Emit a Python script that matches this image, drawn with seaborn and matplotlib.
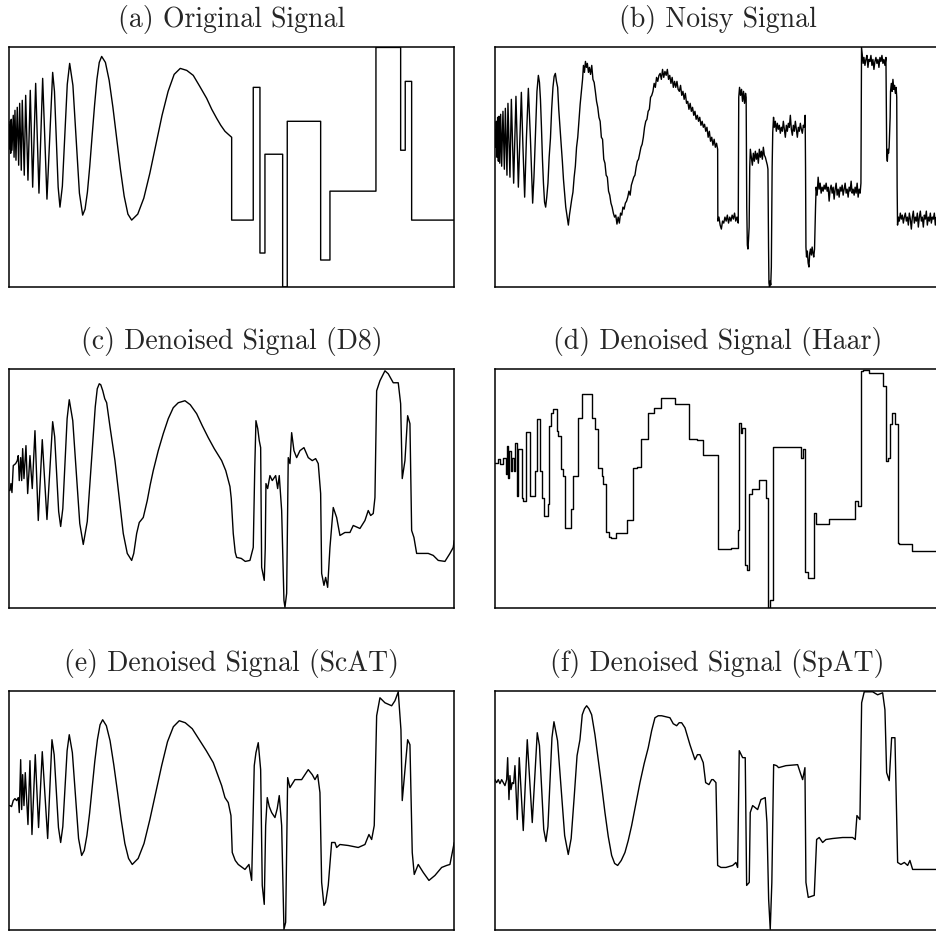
import pandas as pd
import matplotlib
matplotlib.use("Agg")
import matplotlib.pyplot as plt
import seaborn as sns

# values: t = sample position (0..445), amp = amplitude (0..240)

# (a) original signal: chirp part, then the blocks
a_pts = [(0, 150), (0.35, 162), (0.7, 138), (1.05, 166), (1.45, 134), (2.0, 168), (2.7, 137),
         (4.0, 172), (4.8, 130), (5.7, 177), (6.7, 127), (8.0, 180), (9.4, 122), (10.4, 184),
         (12.0, 117), (13.0, 187), (15.0, 112), (16.4, 192), (18.7, 107), (21.0, 197),
         (23.4, 100), (26.4, 204), (29.7, 94), (33.4, 209), (37.7, 88), (43.4, 215),
         (45.2, 196), (47.05, 148), (48.9, 100), (50.7, 80), (53.1, 101), (55.55, 152),
         (58.0, 203), (60.4, 224), (63.65, 202), (66.9, 148), (70.15, 94), (73.4, 72),
         (75.8, 78), (78.15, 95), (80.5, 121), (82.9, 152), (85.3, 182), (87.65, 208),
         (90.0, 225), (92.4, 231), (96.15, 225), (99.9, 207), (103.65, 180), (107.4, 149),
         (111.15, 118), (114.9, 91), (118.65, 73), (122.4, 67), (128.5, 73), (134.55, 89),
         (140.6, 114), (146.7, 143), (152.8, 172), (158.85, 196), (164.9, 213), (171.0, 219),
         (177.5, 217), (184.0, 212), (190.5, 201), (197.4, 189), (202.5, 178), (207.4, 169),
         (211.5, 162), (215.7, 156), (219, 153), (222.4, 150),
         (222.4, 67), (244.0, 67), (244.0, 200), (250.7, 200), (250.7, 34), (255.7, 34),
         (255.7, 133), (273.4, 133), (273.4, 0), (278.0, 0), (278.0, 166), (311.4, 166),
         (311.4, 27), (320.7, 27), (320.7, 96), (366.7, 96), (366.7, 240), (391.4, 240),
         (391.4, 137), (396.0, 137), (396.0, 206), (402.4, 206), (402.4, 67), (445, 67)]

# (b) noisy signal
b_pts = [(0, 157), (0.7, 140), (1.3, 166), (2.0, 130), (2.7, 170), (3.4, 126), (4.0, 171),
         (4.8, 124), (5.7, 173), (6.7, 121), (8.0, 176), (9.4, 118), (10.4, 179), (12.0, 112),
         (13.0, 184), (15.0, 110), (16.4, 188), (18.7, 104), (21.0, 191), (23.4, 100),
         (26.4, 195), (28.0, 140), (29.7, 90), (31.5, 150), (33.4, 199), (35.5, 148),
         (37.7, 84), (39.0, 110), (40.5, 152), (42.0, 196), (43.4, 212),
         (44.5, 205), (45.5, 188), (46.5, 160), (47.5, 128), (48.5, 104), (49.6, 85),
         (50.7, 80), (51.8, 90), (53.0, 104), (54.2, 130), (55.5, 149), (56.7, 178),
         (58.0, 200), (59.2, 211), (60.4, 214), (61.5, 206), (62.7, 200), (63.8, 178),
         (65.0, 160), (66.2, 143), (67.4, 126), (68.5, 108), (69.6, 94), (70.8, 80),
         (72.0, 72), (73.4, 62), (74.5, 72), (75.6, 80), (76.8, 88), (78.0, 95), (79.2, 110),
         (80.4, 121), (81.6, 140), (82.8, 150), (84.0, 166), (85.2, 183), (86.4, 196),
         (87.6, 208), (88.5, 222), (89.5, 215), (90.5, 226), (91.5, 220), (92.4, 224),
         (93.5, 215), (94.5, 220), (95.6, 213), (96.8, 222), (98.0, 208), (99.2, 205),
         (100.4, 196), (101.6, 186), (102.8, 180), (104.0, 170), (105.2, 166), (106.4, 150),
         (107.6, 148), (108.8, 128), (110.0, 124), (111.2, 112), (112.4, 110), (113.6, 96),
         (114.8, 92), (116.0, 84), (117.2, 80), (118.4, 74), (119.6, 70), (120.8, 72),
         (122.0, 63), (123.2, 70), (124.4, 64), (125.6, 74), (126.8, 72), (128.0, 80),
         (129.2, 78), (130.4, 84), (131.6, 86), (132.8, 90), (134.0, 96), (135.2, 92),
         (136.4, 102), (137.6, 106), (138.8, 110), (140.0, 112), (141.2, 120), (142.4, 126),
         (143.6, 128), (144.8, 134), (146.0, 140), (147.2, 143), (148.4, 150), (149.6, 160),
         (150.8, 166), (152.0, 168), (153.2, 176), (154.4, 178), (155.6, 190), (156.8, 192),
         (158.0, 196), (159.2, 204), (160.4, 200), (161.6, 210), (162.8, 206), (164.0, 212),
         (165.2, 214), (166.4, 208), (167.6, 218), (168.8, 210), (170.0, 216), (171.2, 212),
         (172.4, 218), (173.6, 208), (174.8, 212), (176.0, 204), (177.2, 210), (178.4, 200),
         (179.6, 206), (180.8, 200), (182.0, 206), (183.2, 198), (184.4, 196), (185.6, 202),
         (186.8, 192), (188.0, 196), (189.2, 188), (190.4, 194), (191.6, 184), (192.8, 186),
         (194.0, 178), (195.2, 184), (196.4, 176), (197.6, 180), (198.8, 172), (200.0, 176),
         (201.2, 168), (202.4, 172), (203.6, 166), (204.8, 170), (206.0, 162), (207.2, 166),
         (208.4, 160), (209.6, 163), (210.8, 156), (212.0, 160), (213.2, 150), (214.4, 156),
         (215.6, 146), (216.8, 150), (218.0, 142), (219.2, 148), (220.4, 140), (221.6, 144),
         (222.7, 138),
         (222.9, 66), (224, 70), (225.2, 62), (226.4, 58), (227.6, 66), (228.8, 64), (230, 70),
         (231.2, 66), (232.4, 72), (233.6, 64), (234.8, 70), (236, 66), (237.2, 72),
         (238.4, 68), (239.6, 74), (240.8, 66), (242, 70), (243.3, 64),
         (243.8, 190), (244.6, 200), (245.6, 192), (246.6, 198), (247.6, 186), (248.6, 196),
         (249.6, 184), (250.6, 194), (251.2, 190),
         (251.8, 80), (252.4, 42), (253.0, 38), (253.6, 48), (254.2, 60),
         (254.8, 120), (255.4, 138), (256.4, 130), (257.4, 122), (258.4, 134), (259.4, 126),
         (260.4, 136), (261.4, 128), (262.4, 134), (263.4, 124), (264.4, 138), (265.4, 130),
         (266.4, 136), (267.4, 128), (268.4, 140), (269.4, 132), (270.4, 130), (271.4, 126),
         (272.4, 122), (273.0, 118),
         (273.6, 40), (274.0, 4), (274.6, 0), (275.2, 6), (275.8, 2), (276.4, 20),
         (277.2, 120), (277.8, 155), (278.6, 170), (279.4, 160), (280.4, 166), (281.4, 156),
         (282.4, 164), (283.4, 158), (284.4, 162), (285.4, 154), (286.4, 160), (287.4, 156),
         (288.4, 166), (289.4, 158), (290.4, 150), (291.4, 162), (292.4, 156), (293.4, 164),
         (294.4, 160), (295.4, 172), (296.4, 158), (297.4, 152), (298.4, 162), (299.4, 156),
         (300.4, 166), (301.4, 158), (302.4, 150), (303.4, 160), (304.4, 156), (305.4, 164),
         (306.4, 158), (307.4, 154), (308.4, 162), (309.4, 160), (310.2, 172),
         (310.6, 120), (311.0, 40), (311.6, 30), (312.4, 36), (313.2, 24), (314.0, 20),
         (314.8, 34), (315.6, 38), (316.4, 32), (317.2, 40), (318.0, 34), (318.8, 30),
         (319.6, 38),
         (320.6, 80), (321.2, 100), (322.2, 92), (323.2, 110), (324.2, 98), (325.2, 104),
         (326.2, 94), (327.2, 100), (328.2, 96), (329.2, 102), (330.2, 98), (331.2, 104),
         (332.2, 96), (333.2, 100), (334.2, 86), (335.2, 98), (336.2, 102), (337.2, 94),
         (338.2, 100), (339.2, 88), (340.2, 98), (341.2, 104), (342.2, 92), (343.2, 98),
         (344.2, 90), (345.2, 100), (346.2, 96), (347.2, 102), (348.2, 92), (349.2, 98),
         (350.2, 104), (351.2, 94), (352.2, 98), (353.2, 90), (354.2, 100), (355.2, 96),
         (356.2, 106), (357.2, 94), (358.2, 98), (359.2, 92), (360.2, 100), (361.2, 94),
         (362.2, 104), (363.2, 90), (364.2, 98), (365.2, 94), (366.0, 104),
         (366.4, 200), (366.6, 240), (367.4, 232), (368.2, 224), (369.0, 230), (370.0, 222),
         (371.0, 228), (372.0, 232), (373.0, 220), (374.0, 228), (375.0, 226), (376.0, 232),
         (377.0, 222), (378.0, 228), (379.0, 218), (380.0, 226), (381.0, 230), (382.0, 224),
         (383.0, 228), (384.0, 220), (385.0, 230), (386.0, 226), (387.0, 232), (388.0, 224),
         (389.0, 228), (390.0, 222), (391.0, 230),
         (391.4, 180), (391.8, 132), (392.4, 126), (393.0, 138), (393.6, 134), (394.2, 140),
         (395.2, 170), (395.6, 196), (396.4, 204), (397.2, 196), (398.0, 208), (398.8, 198),
         (399.6, 202), (400.4, 194), (401.2, 200), (401.8, 190),
         (402.2, 100), (402.6, 62), (403.4, 70), (404.4, 66), (405.4, 74), (406.4, 68),
         (407.4, 72), (408.4, 64), (409.4, 70), (410.4, 74), (411.4, 66), (412.4, 70),
         (413.4, 62), (414.4, 74), (415.4, 68), (416.4, 58), (417.4, 70), (418.4, 76),
         (419.4, 64), (420.4, 70), (421.4, 66), (422.4, 74), (423.4, 60), (424.4, 70),
         (425.4, 76), (426.4, 66), (427.4, 70), (428.4, 60), (429.4, 72), (430.4, 68),
         (431.4, 76), (432.4, 62), (433.4, 70), (434.4, 66), (435.4, 74), (436.4, 64),
         (437.4, 70), (438.4, 68), (439.4, 74), (440.4, 62), (441.4, 70), (442.4, 66),
         (443.4, 72), (445, 68)]

# (c) denoised with D8
c_pts = [(0, 118), (0.7, 118), (1.7, 125), (2.7, 116), (4.0, 143), (6.4, 145), (8, 148),
         (9, 153), (10, 128), (11.4, 151), (12.4, 128), (13.4, 160), (14.7, 130), (16.7, 163),
         (18.4, 115), (20.7, 153), (23, 120), (25.7, 178), (29, 88), (33, 169), (37.7, 89),
         (43.4, 187), (45.4, 172), (47.4, 135), (49.4, 97), (51.4, 82), (53.55, 100),
         (55.7, 145), (57.85, 190), (60, 209), (63.5, 188), (67, 136), (70.5, 85), (74, 64),
         (78, 87), (82, 145), (86, 202), (88, 220), (90, 225), (91.5, 224), (93.5, 218),
         (95.5, 210), (97.4, 206), (101, 180), (105.7, 148), (110, 110), (114, 75), (118, 55),
         (122.4, 48), (124.5, 55), (127.4, 75), (130, 86), (134, 91), (138, 108), (141, 124),
         (144, 138), (149, 158), (154, 175), (159, 190), (164, 201), (169, 206), (175.7, 208),
         (181, 204), (187.4, 195), (193, 183), (199, 171), (205, 160), (212.4, 148),
         (216.5, 138), (220.7, 122), (222, 110), (224, 75), (226, 56), (227.4, 51), (232, 50),
         (236, 47), (240.7, 48), (244, 61), (245.5, 140), (246.7, 188), (248.5, 180),
         (250, 168), (251.4, 161), (252.4, 41), (255, 28), (256, 60), (256.7, 125),
         (258.4, 120), (260.7, 133), (263, 128), (266.4, 133), (268.4, 120), (270, 133),
         (272.4, 98), (274.7, 8), (275.7, 1), (277.4, 15), (279, 151), (280.7, 145),
         (282.4, 176), (284.7, 158), (287.4, 151), (290.7, 158), (294.7, 161), (299, 151),
         (303, 148), (306.4, 150), (309, 145), (311.4, 115), (312.4, 35), (314.7, 23),
         (316.4, 31), (318.4, 21), (320.7, 61), (324, 101), (327.4, 91), (330.7, 73),
         (335.7, 76), (340.7, 76), (344, 83), (350.7, 80), (355.7, 88), (359, 98),
         (361.4, 93), (364, 95), (365.7, 111), (367.4, 218), (370.7, 228), (375.7, 238),
         (379, 235), (384, 226), (389, 226), (391.4, 205), (393, 130), (395.7, 148),
         (398.4, 193), (400.7, 185), (402.4, 78), (404.7, 71), (407.4, 55), (412.4, 55),
         (419, 55), (424, 53), (429, 48), (435.7, 47), (440.7, 55), (444, 61), (445, 68)]

# (d) denoised with Haar: piecewise constant, (start, level)
d_steps = [(0, 146), (3.3, 150), (5, 145), (8.3, 151), (10.7, 135), (11.7, 163), (13.3, 131),
           (14.3, 158), (16, 138), (17.3, 151), (18.7, 138), (20, 166), (21.7, 113),
           (23.3, 160), (26.7, 111), (28.3, 108), (30.7, 177), (35, 113), (40, 138),
           (41.7, 190), (45, 138), (46.7, 111), (49.3, 92), (52.7, 105), (54, 183),
           (55.7, 196), (57.7, 200), (61.7, 178), (63.3, 173), (66, 140), (68.3, 133),
           (70, 80), (76, 100), (78.3, 133), (83.3, 191), (86.7, 215), (97.3, 191),
           (100, 180), (103.3, 141), (106.7, 133), (108.3, 125), (110.7, 76), (114, 71),
           (116, 70), (120.7, 75), (131.7, 88), (137.7, 141), (141.7, 142), (146, 170),
           (152.7, 196), (159.3, 201), (166, 211), (180, 205), (194, 170), (201.7, 169),
           (208.3, 154), (222.7, 59), (236, 60), (243.3, 78), (244.3, 186), (246.5, 176),
           (247.3, 181), (250.3, 43), (251.7, 38), (254.3, 115), (256.7, 120), (263.7, 129),
           (271, 111), (272.7, 0), (275, 8), (277.7, 162), (306, 151), (308.3, 160),
           (310.3, 36), (312.7, 30), (319.3, 96), (321, 84), (333.7, 89), (360.3, 108),
           (362.7, 103), (366, 238), (367.7, 239), (374.3, 236), (388.3, 223), (391, 148),
           (392.7, 151), (395, 185), (397, 196), (400.3, 185), (402.7, 65), (403.7, 64),
           (417, 57), (445, 57)]

# (e) denoised with ScAT
e_pts = [(0, 125), (0.7, 125), (2.3, 124), (4, 130), (5.7, 132), (7.4, 130), (9, 133),
         (10, 118), (11.4, 171), (12.4, 121), (13.4, 156), (14.7, 125), (16, 158),
         (17.4, 131), (18.7, 106), (20.7, 170), (22.7, 96), (26, 176), (29.3, 103), (33, 179),
         (38.4, 92), (42.7, 191), (44.9, 176), (47.05, 140), (49.2, 103), (51.4, 88),
         (53.55, 104), (55.7, 142), (57.85, 180), (60, 196), (63.1, 178), (66.2, 135),
         (69.3, 92), (72.4, 75), (75.0, 80), (77.65, 95), (80.3, 117), (82.9, 143),
         (85.5, 169), (88.15, 191), (90.8, 206), (93.4, 211), (97.1, 205), (100.8, 190),
         (104.5, 166), (108.2, 139), (111.9, 111), (115.6, 87), (119.3, 72), (123, 66),
         (128.9, 72), (134.75, 87), (140.6, 111), (146.5, 138), (152.4, 165), (158.25, 189),
         (164.1, 204), (170, 210), (176, 208), (183, 202), (190.7, 190), (197, 180),
         (204, 168), (208, 157), (212.4, 145), (215.7, 133), (219, 128), (221.7, 115),
         (223, 78), (226, 70), (229, 66), (235.7, 61), (239.7, 66), (242.4, 50), (245, 165),
         (246.7, 178), (249, 188), (251.4, 161), (253, 45), (255, 26), (256.4, 105),
         (258, 133), (260, 124), (262.4, 118), (265.7, 113), (268, 122), (270, 135),
         (272.4, 105), (274.7, 1), (276.4, 8), (278.4, 153), (280.7, 143), (285.7, 151),
         (292.4, 151), (299, 161), (303, 156), (305.7, 151), (308.4, 156), (310.7, 138),
         (312.4, 48), (314.7, 25), (316.4, 28), (319, 45), (322.4, 88), (325.7, 88),
         (327.4, 83), (330.7, 86), (339, 85), (349, 83), (355.7, 86), (359.7, 96),
         (362.4, 91), (365, 105), (367.4, 215), (370.7, 233), (375.7, 228), (382.4, 225),
         (385.7, 230), (389, 239), (391.7, 201), (393, 130), (395.7, 161), (398.4, 191),
         (400.7, 186), (403, 78), (405, 56), (409, 66), (414, 58), (419.7, 50), (425.7, 55),
         (432.4, 63), (437.4, 65), (440.7, 66), (444, 83), (445, 88)]

# (f) denoised with SpAT
f_pts = [(0, 151), (1.7, 148), (3.3, 151), (5, 147), (6.7, 151), (8.3, 148), (10, 145),
         (11.7, 151), (12.7, 173), (14, 131), (15, 155), (16, 141), (17.3, 148), (18.7, 147),
         (20, 165), (22.3, 111), (24.3, 173), (28.3, 100), (32.3, 191), (37.3, 108),
         (42.3, 198), (44.5, 185), (46.65, 143), (48.8, 101), (51, 89), (53, 104), (55, 149),
         (57, 193), (59, 209), (62.6, 190), (66.2, 142), (69.7, 95), (73.3, 76), (76.2, 92),
         (79.2, 133), (82.1, 175), (85, 191), (87.3, 216), (89.5, 222), (91.7, 225),
         (94, 222), (96.7, 216), (100, 196), (103.3, 171), (106.7, 145), (110, 118),
         (113.3, 94), (116.7, 75), (119.7, 67), (122.7, 65), (126.3, 70), (130, 78),
         (133.3, 90), (136.7, 105), (140.8, 126), (145, 148), (149.2, 167), (153.3, 183),
         (156.7, 200), (160, 213), (163.3, 215), (166.7, 215), (170.8, 214), (175, 213),
         (178.3, 207), (181.7, 205), (184.2, 208), (186.7, 208), (190, 203), (195, 186),
         (200, 171), (202.5, 176), (205, 176), (206.7, 172), (208.3, 168), (210.7, 148),
         (214, 146), (216.7, 151), (218.3, 151), (221, 148), (222.7, 65), (226, 63),
         (231, 63), (237.7, 65), (241, 68), (242.7, 63), (244.3, 180), (247.7, 173),
         (250.3, 173), (251.7, 45), (254.3, 48), (255.3, 118), (257.7, 125), (262.7, 121),
         (266, 131), (270.3, 133), (272, 108), (273.7, 31), (275.3, 1), (276.9, 48),
         (278.7, 166), (281.7, 165), (283.7, 163), (291, 165), (302.7, 166), (305.3, 158),
         (307.7, 151), (310, 163), (311, 48), (313.3, 33), (319.3, 35), (321.7, 91),
         (324.3, 93), (327.7, 88), (331, 91), (337.7, 92), (347.7, 93), (357.7, 93),
         (360.3, 91), (362, 115), (365, 111), (366.7, 228), (369.3, 239), (377.7, 239),
         (382.7, 236), (387.7, 238), (390, 221), (391.7, 158), (394.3, 150), (396.7, 193),
         (400, 193), (402.7, 68), (406, 66), (409.4, 68), (412.7, 65), (415, 70), (417.7, 61),
         (424.3, 61), (441, 61), (445, 61)]

titles = ["(a) Original Signal", "(b) Noisy Signal",
          "(c) Denoised Signal (D8)", "(d) Denoised Signal (Haar)",
          "(e) Denoised Signal (ScAT)", "(f) Denoised Signal (SpAT)"]
series = [a_pts, b_pts, c_pts, d_steps, e_pts, f_pts]

sns.set_style("white")

fig = plt.figure(figsize=(9.36, 9.32), dpi=100)

# panel boxes in figure fractions (the right column runs a little past the edge)
lefts = [0.0099, 0.5288]
bottoms = [0.6921, 0.3473, 0.0018]
w, h = 0.4754, 0.2570

for i, (title, pts) in enumerate(zip(titles, series)):
    ax = fig.add_axes([lefts[i % 2], bottoms[i // 2], w, h])
    df = pd.DataFrame(pts, columns=["t", "amp"])
    kw = {"drawstyle": "steps-post"} if i == 3 else {}
    sns.lineplot(data=df, x="t", y="amp", ax=ax, estimator=None, sort=False,
                 color="black", linewidth=1.0, **kw)
    ax.set_xlim(0, 445)
    ax.set_ylim(0, 240)
    ax.set_xticks([])
    ax.set_yticks([])
    ax.set_xlabel("")
    ax.set_ylabel("")
    for sp in ax.spines.values():
        sp.set_visible(True)
        sp.set_color("black")
        sp.set_linewidth(1.1)
    ax.set_title(title, fontfamily="cmr10", fontsize=20, pad=14.5)

fig.savefig("out.png", dpi=100)
